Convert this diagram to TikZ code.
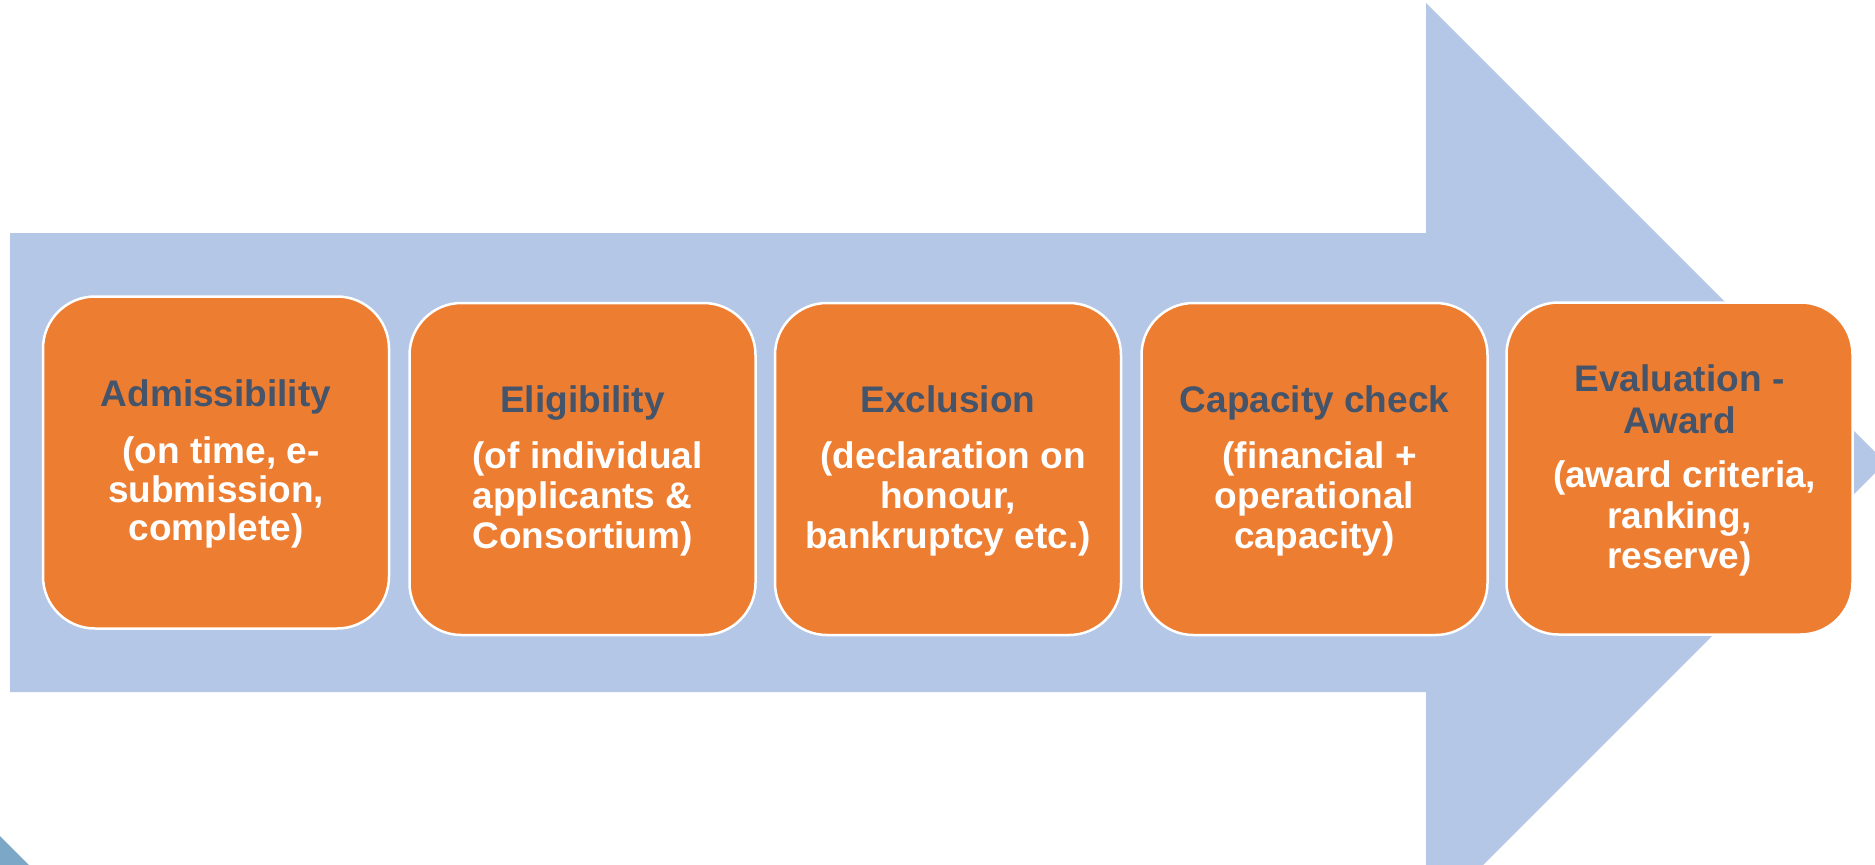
\documentclass[tikz,border=0pt]{standalone}
\usepackage{fontspec}
\setmainfont{Liberation Sans}
\definecolor{arrowblue}{HTML}{B4C7E7}
\definecolor{boxorange}{HTML}{ED7D31}
\definecolor{titleblue}{HTML}{44546A}
\definecolor{cornerblue}{HTML}{7DA7C7}
\begin{document}
\begin{tikzpicture}[x=1pt,y=-1pt,
  stepbox/.style={draw=white, line width=2.5pt, fill=boxorange, rounded corners=52pt,
    minimum width=346pt, minimum height=332pt, inner sep=0pt},
  ttl/.style={anchor=base, text=titleblue, inner sep=0pt,
    font=\bfseries\fontsize{37}{40}\selectfont},
  bdy/.style={anchor=base, text=white, inner sep=0pt,
    font=\bfseries\fontsize{37}{40}\selectfont}]
\useasboundingbox (0,0) rectangle (1875,865);
\fill[white] (0,0) rectangle (1875,865);
\clip (0,0) rectangle (1875,865);
% big arrow
\fill[arrowblue] (10,233) -- (1426,233) -- (1426,3) -- (1885.5,462.5)
  -- (1426,922) -- (1426,692) -- (10,692) -- cycle;
% corner triangle
\fill[cornerblue] (0,836) -- (29,865) -- (0,865) -- cycle;
% boxes
\node[stepbox] (s1) at (216,462.5) {};
\node[stepbox] (s2) at (582.5,469) {};
\node[stepbox] (s3) at (948,469) {};
\node[stepbox] (s4) at (1314.5,469) {};
\node[stepbox] (s5) at (1679.5,468.5) {};
% box 1
\node[ttl] (t1) at (216,406) {Admissibility};
\node[bdy] (b1a) at (216,463) {\ (on time, e-};
\node[bdy] (b1b) at (216,502) {submission,};
\node[bdy] (b1c) at (216,540) {complete)};
% box 2
\node[ttl] (t2) at (582.5,412) {Eligibility};
\node[bdy] (b2a) at (582.5,468) {\ (of individual};
\node[bdy] (b2b) at (582.5,508) {applicants \&};
\node[bdy] (b2c) at (582.5,548) {Consortium)};
% box 3
\node[ttl] (t3) at (948,412) {Exclusion};
\node[bdy] (b3a) at (948,468) {\ (declaration on};
\node[bdy] (b3b) at (948,508) {honour,};
\node[bdy] (b3c) at (948,548) {bankruptcy etc.)};
% box 4
\node[ttl] (t4) at (1314.5,412) {Capacity check};
\node[bdy] (b4a) at (1314.5,468) {\ (financial +};
\node[bdy] (b4b) at (1314.5,508) {operational};
\node[bdy] (b4c) at (1314.5,548) {capacity)};
% box 5
\node[ttl] (t5a) at (1679.5,391) {Evaluation -};
\node[ttl] (t5b) at (1679.5,433) {Award};
\node[bdy] (b5a) at (1679.5,487) {\ (award criteria,};
\node[bdy] (b5b) at (1679.5,528) {ranking,};
\node[bdy] (b5c) at (1679.5,568) {reserve)};
\end{tikzpicture}
\end{document}
